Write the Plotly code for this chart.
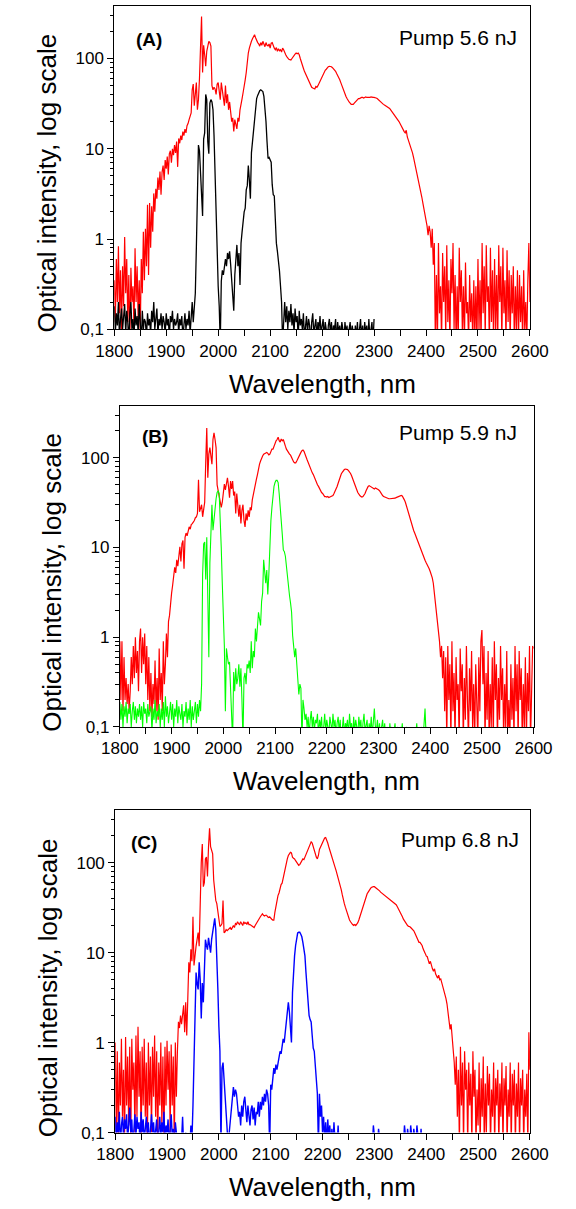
import plotly.graph_objects as go

WL_START = 1800
WL_STEP = 2

# ---------------- Panel A: pump 5.6 nJ ----------------
red_A = [
0.35,0.12,0.6,0.2,0.83,0.15,0.45,0.09,0.5,0.18,
1.05,0.25,0.6,0.12,0.4,0.07,0.48,0.2,0.3,0.1,
0.79,0.2,0.5,0.13,0.35,0.09,0.6,0.25,1.2,0.35,
1.3,0.5,2.4,0.4,2.5,0.8,2.3,1.2,3.2,2.0,
3.6,2.8,4.8,3.5,5.6,3.1,5.5,6.5,4.5,7.5,
6.0,8.2,5.2,8.8,9.5,7.0,10.0,8.5,11.0,9.0,
12.0,6.3,13.0,11.5,14.0,12.5,15.5,14.0,16.5,15.0,
18,19,21,23,25,45,52,30,40,54,
27,35,60,200,292,70,140,110,82,120,
140,155,150,137,50,45,48,46,40,52,
54,45,35,54,42,38,30,50,32,40,
27,33,25,20,22,15.5,21,18,16.6,22,
20,27,30,36,42,48,58,70,95,115,
130,145,155,165,178,183,170,158,150,145,
137,150,140,155,145,135,150,140,138,145,
130,148,150,138,130,125,132,120,128,122,
125,118,130,125,115,110,105,100,98,97,
96,100,105,108,112,115,113,115,110,100,
90,82,78,72,68,64,60,55,52,50,
48,47,46,46,49,48,50,53,57,61,
64,68,71,74,76,79,81,82,82,81,
79,77,75,72,68,65,61,58,54,50,
46,43,40,38,36,34,33,32,31,31,
31,32,33,34,35,36,36,37,37,37,
36.5,37,37.5,37,36.8,37.2,37,37.5,37,37,
37,37,36.5,36,35,34,33,32,31.5,31,
30.5,30,29.5,29,28.5,28,27,26,25,24,
23.5,23,22,21,20,19,18,17,16,15.5,
15,16,13.5,12.5,11.5,11,10,9,8,7.1,
6.3,5.5,4.7,4.2,3.7,3.3,2.9,2.5,2.2,1.9,
1.6,1.4,1.1,1.4,1.2,0.8,1.3,0.52,0.9,0.07,
0.4,0.07,0.9,0.15,0.3,0.07,0.7,0.2,0.5,0.08,
0.85,0.12,0.35,0.07,0.6,0.25,0.9,0.1,0.4,0.07,
0.3,0.07,0.8,0.2,0.45,0.09,0.3,0.07,0.55,0.15,
0.2,0.07,0.4,0.12,0.25,0.07,0.35,0.08,0.3,0.07,
0.6,0.1,0.35,0.07,0.9,0.15,0.5,0.08,0.85,0.2,
0.3,0.07,0.8,0.12,0.45,0.07,0.6,0.1,0.4,0.07,
0.85,0.2,0.5,0.07,0.8,0.15,0.35,0.07,0.75,0.12,
0.45,0.07,0.4,0.15,0.5,0.07,0.3,0.1,0.45,0.07,
0.4,0.12,0.3,0.07,0.45,0.1,0.2,0.07,0.35,0.9,
0.2]

black_A = [
0.18,0.09,0.15,0.11,0.2,0.08,0.13,0.17,0.1,0.14,
0.19,0.09,0.16,0.12,0.07,0.15,0.2,0.1,0.13,0.08,
0.17,0.11,0.14,0.09,0.19,0.12,0.07,0.16,0.1,0.13,
0.12,0.08,0.15,0.11,0.13,0.09,0.16,0.12,0.2,0.1,
0.14,0.17,0.09,0.13,0.11,0.15,0.1,0.14,0.12,0.09,
0.15,0.11,0.13,0.08,0.14,0.12,0.16,0.1,0.13,0.11,
0.12,0.15,0.09,0.13,0.11,0.14,0.08,0.12,0.15,0.1,
0.13,0.11,0.16,0.09,0.14,0.2,0.12,0.17,0.25,0.8,
4,11,9.5,6,2.8,1.8,12.8,15,40,35,
12,8.8,32,35,33,27,14,5,1.8,0.8,
0.3,0.18,0.07,0.34,0.45,0.4,0.55,0.6,0.5,0.7,
0.6,0.73,0.52,0.35,0.2,0.16,0.4,0.6,0.86,0.5,
0.7,0.31,0.9,1.2,1.6,2.0,2.2,3.5,3.9,6.5,
4.5,2.8,9,11.8,18,24,30,36,39,42,
44,45,44,43,38,30,20,12,7.8,8,
7.3,7.1,4,3.1,3.0,1.5,0.9,0.73,0.6,0.44,
0.3,0.2,0.07,0.14,0.2,0.12,0.18,0.1,0.16,0.12,
0.19,0.11,0.15,0.09,0.17,0.12,0.14,0.08,0.16,0.11,
0.13,0.1,0.15,0.08,0.12,0.14,0.09,0.13,0.11,0.07,
0.12,0.15,0.09,0.11,0.13,0.08,0.12,0.1,0.14,0.09,
0.11,0.13,0.08,0.12,0.1,0.07,0.11,0.13,0.09,0.12,
0.08,0.11,0.1,0.13,0.07,0.12,0.09,0.11,0.08,0.12,
0.1,0.07,0.12,0.09,0.11,0.07,0.1,0.12,0.08,0.11,
0.09,0.07,0.11,0.08,0.12,0.07,0.1,0.13,0.08,0.11,
0.07,0.12,0.09,0.11,0.07,0.13,0.08,0.1,0.12,0.07,
0.13]

# ---------------- Panel B: pump 5.9 nJ ----------------
red_B = [
0.9,0.2,0.9,0.15,0.6,0.2,0.35,0.18,0.3,0.15,
0.25,0.6,0.3,0.8,0.35,1.0,0.4,0.7,0.25,0.9,
1.25,0.4,1.0,0.5,1.1,0.3,0.8,0.2,0.6,0.15,
0.4,0.13,0.3,0.18,0.55,0.15,0.35,0.12,0.75,0.2,
0.4,0.15,0.9,0.3,0.5,1.1,0.6,1.5,1.75,2.5,
3.1,3.8,4.5,6,5.2,7.3,6.2,9,10.2,7,
11,12,5.8,13,14.5,13.5,16,17,16,18,
18.5,19,20,21.5,22,24,57,25,28,30,
22,26,32,90,215,60,110,130,95,85,
160,190,160,130,50,43,40,34,28,32,
40,51,44,50,60,48,36,55,45,55,
38,42,24,40,28,22,30,18.5,26,30,
20,17,24,20,26,22,28,26,34,40,
44,51,58,65,78,85,92,100,105,110,
112,115,115,112,108,110,118,125,125,135,
145,155,160,170,155,150,162,155,160,150,
135,125,118,112,110,107,100,95,90,88,
88,92,98,104,110,115,120,122,118,112,
102,95,88,82,76,72,68,65,60,56,
52,50,48,45,43,41,40,38,37,37,
36.5,37,36,36.5,37,37,38,40,42,45,
48,52,57,62,66,69,72,74,75,75,
74,72,70,67,63,58,53,50,47,44,
41,39,38,37,36.5,37,38,40,43,46,
48,49,48,47,46,45,45,46,45.5,45,
44,43,41,39,38,37,36.5,36,35.5,35.5,
35,35,35,35.5,35,35,35.5,36,36.5,37,
37.5,38,38,37.5,36,34,32,29,26.5,24,
21.5,20,18.5,17,15.5,14.5,13.5,12.5,11.5,10.5,
9.8,9.2,8.6,8.2,7.6,7.2,6.8,6.5,6.2,5.8,
5.4,5.0,4.6,4.0,3.2,2.4,2.0,1.6,1.2,0.9,
0.6,0.8,0.35,0.7,0.15,0.6,0.07,0.8,0.2,0.5,
0.07,0.9,0.15,0.4,0.07,0.6,0.2,0.3,0.07,0.75,
0.25,0.5,0.07,0.35,0.12,0.8,0.2,0.07,0.45,0.15,
0.7,0.1,0.3,0.07,0.5,0.2,0.07,0.6,0.15,0.9,
1.2,0.3,0.8,0.07,0.4,0.12,0.7,0.07,0.3,0.1,
0.6,0.07,0.9,0.2,0.5,0.07,0.35,0.12,0.8,0.2,
0.45,0.07,0.3,0.1,0.7,0.07,0.2,0.07,0.5,0.12,
0.35,0.07,0.8,0.15,0.5,0.07,0.7,0.2,0.45,0.07,
0.3,0.1,0.6,0.07,0.4,0.15,0.8,0.07,0.3,0.8,
0.75]

green_B = [
0.19,0.12,0.18,0.1,0.17,0.13,0.19,0.11,0.16,0.14,
0.18,0.1,0.15,0.19,0.12,0.17,0.11,0.16,0.13,0.18,
0.12,0.17,0.1,0.19,0.14,0.16,0.11,0.18,0.13,0.15,
0.17,0.09,0.16,0.12,0.2,0.11,0.15,0.13,0.18,0.1,
0.16,0.12,0.19,0.1,0.22,0.13,0.17,0.11,0.15,0.19,
0.12,0.18,0.1,0.16,0.13,0.2,0.11,0.17,0.14,0.12,
0.18,0.1,0.15,0.13,0.19,0.11,0.16,0.12,0.2,0.1,
0.17,0.12,0.15,0.19,0.11,0.18,0.13,0.2,0.15,0.3,
5,11,11.5,4.4,13,2.9,0.6,6.7,20,30,
15.6,22,28,35,41,43,40,24,10,4,
1.9,0.8,0.15,0.75,0.6,0.5,0.53,0.3,0.19,0.07,
0.41,0.25,0.45,0.3,0.35,0.5,0.28,0.45,0.2,0.07,
0.35,0.4,0.3,0.5,0.45,0.55,0.4,0.9,0.45,0.7,
0.6,1.25,0.9,1.5,1.9,1.6,1.35,2.5,3.1,7.3,
5,4,5.6,3,5,11.5,20,28,40,48,
53,56,56,53,40,30,20,14,9.4,9,
8,6,4.4,3.8,2.9,2.4,1.9,1.05,0.8,0.6,
0.75,0.5,0.38,0.23,0.3,0.27,0.07,0.2,0.16,0.12,
0.14,0.1,0.13,0.08,0.12,0.15,0.1,0.13,0.09,0.12,
0.11,0.14,0.08,0.12,0.1,0.13,0.07,0.11,0.14,0.09,
0.12,0.1,0.08,0.13,0.11,0.09,0.14,0.1,0.12,0.08,
0.11,0.13,0.09,0.12,0.07,0.1,0.13,0.08,0.11,0.1,
0.12,0.08,0.14,0.1,0.11,0.07,0.13,0.09,0.12,0.1,
0.08,0.13,0.1,0.12,0.07,0.11,0.14,0.09,0.1,0.12,
0.07,0.11,0.09,0.13,0.08,0.12,0.16,0.1,0.09,0.12,
0.08,0.11,0.07,0.1,0.12,0.08,0.11,0.07,0.1,0.09,
0.07,0.11,0.08,0.1,0.07,0.09,0.11,0.07,0.1,0.08,
0.07,0.1,0.08,0.11,0.07,0.09,0.07,0.1,0.08,0.07,
0.09,0.07,0.08,0.07,0.1,0.07,0.08,0.11,0.07,0.09,
0.07,0.08,0.1,0.07,0.12,0.16,0.08,0.1,0.07,0.07]

# ---------------- Panel C: pump 6.8 nJ ----------------
red_C = [
1.0,0.1,0.8,0.07,0.6,0.2,1.1,0.15,0.5,0.07,
1.15,0.2,0.7,0.12,0.9,0.07,1.1,0.3,0.6,0.1,
1.2,0.15,1.5,0.25,0.8,0.07,0.9,0.2,1.1,0.15,
0.6,0.07,1.0,0.2,0.7,0.1,0.9,0.25,1.2,0.15,
0.8,0.07,0.6,0.2,1.0,0.12,0.7,0.07,0.9,0.2,
1.05,0.3,0.8,0.1,0.95,0.2,0.7,0.07,1.0,0.25,
0.8,1.7,1.45,2.0,1.6,2.2,2.6,1.3,2.8,1.2,
2.8,7.8,6,10.9,8,25,7.2,10,11.8,14,
16.7,11.8,42,100,161,54,60,110,115,70,
150,240,150,140,125,64,45,38,35,28,
23,19.5,20,21,38,16.6,17,18,17.5,18,
18.5,19,18,19.5,20,19,21,20.5,22,21,
20.5,22,21,20,22,21,21.5,20.5,22,20.5,
20.5,20,19.5,19,19,20,21,22.5,23.5,24,
25,26,27,26,25.5,26,26,25,24.5,25,
24,23.5,23,23,28,33,38,43,46,52,
57,59,68,78,89,100,110,120,125,130,
128,115,112,110,105,100,96,93,95,100,
105,110,108,115,125,135,143,150,160,170,
165,150,137,125,115,110,120,140,150,160,
170,180,188,190,180,165,150,137,125,110,
100,94,89,82,75,68,62,57,50,44,
38,35,32,29,27,24,23,22,21,20.5,
20,20.5,20,20.5,21.5,23,25,27,30,33,
36,39,42,45,47,50,51,53,54,54,
54,53,52,51,50,48.5,47,46,45,44,
43,42,41,40,39.5,38.5,38,37,36,35.5,
35,34,32.5,31,29,27.5,26,25,23.5,22.5,
21.5,20.5,20,19.5,19.5,19,18.5,18,17.5,16.5,
15.5,14.5,14,13,13,12.5,12,11,10.5,9.8,
9.2,9,8.2,7.5,8,7,6.6,6.2,6.6,5.8,
5.4,5.2,5.6,5.0,5.1,4.6,4.3,4,3.4,3.1,
2.7,2.2,2.0,1.4,1.6,1.2,0.8,0.6,0.34,0.7,
0.15,0.5,0.07,0.9,0.2,0.6,0.07,0.8,0.3,0.5,
0.07,0.6,0.2,0.45,0.07,0.8,0.25,0.5,0.07,0.3,
0.12,0.6,0.07,0.4,0.15,0.7,0.07,0.35,0.1,0.55,
0.2,0.45,0.07,0.3,0.15,0.6,0.07,0.4,0.2,0.5,
0.07,0.35,0.15,0.6,0.07,0.4,0.2,0.55,0.07,0.3,
0.15,0.6,0.07,0.45,0.2,0.5,0.07,0.35,0.15,0.6,
0.07,0.4,0.2,0.5,0.07,0.3,0.15,0.45,0.07,1.3,
0.5]

blue_C = [
0.15,0.08,0.13,0.1,0.17,0.07,0.12,0.15,0.09,0.14,
0.11,0.16,0.08,0.13,0.19,0.1,0.14,0.07,0.12,0.16,
0.09,0.15,0.11,0.13,0.07,0.17,0.1,0.14,0.08,0.12,
0.15,0.09,0.13,0.07,0.11,0.16,0.1,0.13,0.08,0.12,
0.14,0.07,0.11,0.15,0.09,0.13,0.1,0.17,0.08,0.12,
0.1,0.14,0.07,0.12,0.16,0.09,0.11,0.07,0.13,0.1,
0.07,0.09,0.07,0.07,0.08,0.15,0.07,0.07,0.1,0.07,
0.07,0.08,0.07,0.12,0.08,0.2,0.73,2.2,6,4.5,
3.9,7.8,5,1.85,4.6,2.8,8.5,13.9,12,10.8,
14.6,12,10,14,16.6,22,24,18,10,4,
1.5,0.8,0.07,0.52,0.6,0.4,0.32,0.22,0.15,0.07,
0.1,0.14,0.2,0.28,0.32,0.25,0.3,0.27,0.2,0.15,
0.17,0.12,0.2,0.15,0.22,0.25,0.18,0.13,0.2,0.16,
0.12,0.18,0.2,0.14,0.19,0.12,0.17,0.16,0.22,0.15,
0.22,0.18,0.25,0.2,0.27,0.22,0.3,0.27,0.2,0.07,
0.34,0.3,0.45,0.52,0.45,0.57,0.5,0.6,0.65,0.8,
0.75,0.9,1.1,1.0,1.3,1.4,2.0,2.8,2.2,1.5,
1.0,3.6,7,9.2,12,15,16.5,16.8,16.8,16,
15,13,11,9.2,6,4,2.5,2.0,1.8,1.7,
1.2,0.87,0.8,0.52,0.35,0.27,0.07,0.27,0.15,0.2,
0.1,0.15,0.08,0.13,0.07,0.14,0.09,0.12,0.07,0.11,
0.07,0.13,0.08,0.1,0.07,0.12,0.07,0.08,0.07,0.07,
0.07,0.07,0.08,0.07,0.07,0.07,0.07,0.07,0.07,0.07,
0.07,0.07,0.07,0.08,0.07,0.07,0.07,0.07,0.07,0.07,
0.07,0.07,0.07,0.07,0.07,0.07,0.07,0.07,0.07,0.12,
0.07,0.07,0.07,0.07,0.11,0.07,0.07,0.07,0.07,0.07,
0.07,0.07,0.07,0.07,0.07,0.07,0.07,0.07,0.07,0.07,
0.07,0.07,0.07,0.07,0.07,0.07,0.07,0.07,0.07,0.12,
0.07,0.07,0.11,0.07,0.07,0.12,0.07,0.07,0.11,0.07,
0.07,0.12,0.07,0.07,0.07,0.11,0.07,0.07,0.07,0.07,
0.07]

panel_labels = ["(A)", "(B)", "(C)"]
pump_labels = ["Pump 5.6 nJ", "Pump 5.9 nJ", "Pump 6.8 nJ"]
x_ticks = [1800, 1900, 2000, 2100, 2200, 2300, 2400, 2500, 2600]
y_ticks = [0.1, 1, 10, 100]
y_tick_text = ["0,1", "1", "10", "100"]
y_minor = [0.2, 0.3, 0.4, 0.5, 0.6, 0.7, 0.8, 0.9,
           2, 3, 4, 5, 6, 7, 8, 9,
           20, 30, 40, 50, 60, 70, 80, 90, 200, 300]
x_title = "Wavelength, nm"
y_title = "Optical intensity, log scale"


def grid(vals):
    return [WL_START + WL_STEP * i for i in range(len(vals))]


W, H = 576, 1209
FONT = "Liberation Sans, Arial, sans-serif"

# pixel boxes of each plot area: (left, right, top, bottom)
boxes = [(102, 547, 6, 332), (108, 551, 409, 733), (103, 547, 817, 1142)]
panels = [
    (red_A, black_A, "#000000", 1.3),
    (red_B, green_B, "#00FF00", 1.1),
    (red_C, blue_C, "#0000FF", 1.4),
]
lab_pos = [(123, 40), (130, 440), (118, 850)]
pump_pos = [(405, 38), (405, 436), (407, 846)]

fig = go.Figure()
annotations = []
for i, ((red, filt, fcol, fw), (l, r, t, b)) in enumerate(zip(panels, boxes), start=1):
    xs = "x" if i == 1 else f"x{i}"
    ys = "y" if i == 1 else f"y{i}"
    fig.add_trace(go.Scatter(x=grid(red), y=red, mode="lines",
                             line=dict(color="#FF0000", width=1.2),
                             xaxis=xs, yaxis=ys, showlegend=False))
    fig.add_trace(go.Scatter(x=grid(filt), y=filt, mode="lines",
                             line=dict(color=fcol, width=fw),
                             xaxis=xs, yaxis=ys, showlegend=False))
    xd = [l / W, r / W]
    yd = [1 - b / H, 1 - t / H]
    xname = "xaxis" if i == 1 else f"xaxis{i}"
    yname = "yaxis" if i == 1 else f"yaxis{i}"
    fig.layout[xname] = dict(
        domain=xd, anchor=ys, range=[1800, 2600], showgrid=False, zeroline=False,
        showline=True, mirror=True, linecolor="black", linewidth=1,
        tickmode="array", tickvals=x_ticks, ticks="outside", ticklen=6,
        tickcolor="black", tickfont=dict(family=FONT, size=17, color="black"),
        minor=dict(dtick=50, ticks="outside", ticklen=6, tickcolor="black", showgrid=False),
    )
    fig.layout[yname] = dict(
        domain=yd, anchor=xs, type="log", range=[-1, 2.582], showgrid=False, zeroline=False,
        showline=True, mirror=True, linecolor="black", linewidth=1,
        tickmode="array", tickvals=y_ticks, ticktext=y_tick_text, ticks="outside",
        ticklen=6, tickcolor="black", tickfont=dict(family=FONT, size=17, color="black"),
        minor=dict(tickmode="array", tickvals=y_minor, ticks="outside", ticklen=3.5,
                   tickcolor="black", showgrid=False),
    )
    # mirrored frame with inward ticks (top and right)
    j = i + 3
    fig.layout[f"xaxis{j}"] = dict(
        overlaying=xs, anchor=ys, side="top", range=[1800, 2600], showgrid=False,
        zeroline=False, showline=True, linecolor="black", linewidth=1,
        tickmode="linear", tick0=1800, dtick=50, ticks="inside", ticklen=5,
        tickcolor="black", showticklabels=False,
    )
    fig.layout[f"yaxis{j}"] = dict(
        overlaying=ys, anchor=xs, side="right", type="log", range=[-1, 2.582],
        showgrid=False, zeroline=False, showline=True, linecolor="black", linewidth=1,
        tickmode="array", tickvals=y_ticks, ticks="inside", ticklen=6,
        tickcolor="black", showticklabels=False,
        minor=dict(tickmode="array", tickvals=y_minor, ticks="inside", ticklen=3.5,
                   tickcolor="black", showgrid=False),
    )
    annotations.append(dict(text=x_title, xref="paper", yref="paper",
                            x=(l + r) / 2 / W, y=1 - (b + 55) / H,
                            xanchor="center", yanchor="middle", showarrow=False,
                            font=dict(family=FONT, size=26, color="black")))
    annotations.append(dict(text=y_title, xref="paper", yref="paper",
                            x=(l - 72) / W, y=1 - ((t + b) / 2 + 16) / H,
                            xanchor="center", yanchor="middle", textangle=-90,
                            showarrow=False,
                            font=dict(family=FONT, size=26, color="black")))
    lx, ly = lab_pos[i - 1]
    annotations.append(dict(text="<b>" + panel_labels[i - 1] + "</b>", xref="paper",
                            yref="paper", x=lx / W, y=1 - ly / H, xanchor="left",
                            yanchor="middle", showarrow=False,
                            font=dict(family=FONT, size=19, color="black")))
    px_, py_ = pump_pos[i - 1]
    annotations.append(dict(text=pump_labels[i - 1], xref="paper", yref="paper",
                            x=px_ / W, y=1 - py_ / H, xanchor="left", yanchor="middle",
                            showarrow=False,
                            font=dict(family=FONT, size=21, color="black")))

fig.update_layout(width=W, height=H, margin=dict(l=0, r=0, t=0, b=0),
                  paper_bgcolor="white", plot_bgcolor="white",
                  annotations=annotations, showlegend=False,
                  font=dict(family=FONT, color="black"))

fig.write_html("out.html")
